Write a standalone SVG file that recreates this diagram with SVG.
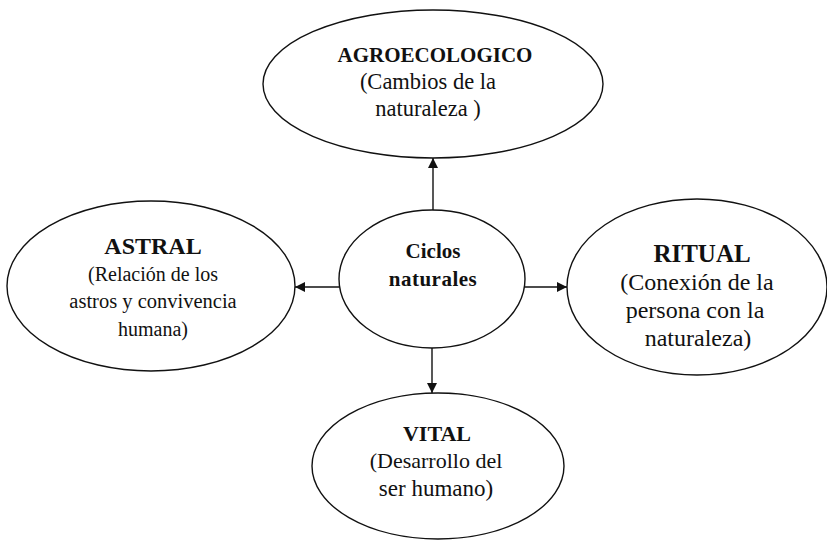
<svg xmlns="http://www.w3.org/2000/svg" width="827" height="540" viewBox="0 0 827 540">
  <style>
    .node { fill: #ffffff; stroke: #111111; stroke-width: 1.4; }
    .edge { stroke: #111111; stroke-width: 1.4; fill: none; marker-end: url(#arrow); }
    text { font-family: "Liberation Serif", "Times New Roman", serif; fill: #111111; text-anchor: middle; }
    .title { font-weight: bold; }
  </style>
  <defs>
    <marker id="arrow" viewBox="0 0 10 10" refX="10" refY="5" markerWidth="10" markerHeight="10" markerUnits="userSpaceOnUse" orient="auto">
      <path d="M0,0 L10,5 L0,10 Z" fill="#111111"/>
    </marker>
  </defs>
  <rect width="827" height="540" fill="#ffffff"/>

  <g id="connectors">
    <line class="edge" x1="433" y1="210" x2="433" y2="158"/>
    <line class="edge" x1="339" y1="287" x2="295" y2="287"/>
    <line class="edge" x1="525" y1="287" x2="567" y2="287"/>
    <line class="edge" x1="432" y1="348" x2="432" y2="393"/>
  </g>

  <g id="agroecologico">
    <ellipse class="node" cx="433" cy="84" rx="170" ry="74"/>
    <text class="title" x="435" y="62" font-size="21">AGROECOLOGICO</text>
    <text x="428" y="89" font-size="22.5">(Cambios de la</text>
    <text x="428" y="116" font-size="22.5">naturaleza )</text>
  </g>

  <g id="astral">
    <ellipse class="node" cx="151" cy="286" rx="144" ry="85"/>
    <text class="title" x="153" y="254" font-size="24">ASTRAL</text>
    <text x="153" y="281" font-size="20">(Relación de los</text>
    <text x="153" y="308" font-size="20.5">astros y convivencia</text>
    <text x="153" y="336" font-size="20">humana)</text>
  </g>

  <g id="ciclos">
    <ellipse class="node" cx="432" cy="279" rx="93" ry="69"/>
    <text class="title" x="433" y="258" font-size="21">Ciclos</text>
    <text class="title" x="433" y="286" font-size="21" letter-spacing="0.5">naturales</text>
  </g>

  <g id="ritual">
    <ellipse class="node" cx="697" cy="287" rx="130" ry="88"/>
    <text class="title" x="702" y="262" font-size="25">RITUAL</text>
    <text x="697" y="290" font-size="24">(Conexión de la</text>
    <text x="695" y="318" font-size="24">persona con la</text>
    <text x="698" y="346" font-size="24">naturaleza)</text>
  </g>

  <g id="vital">
    <ellipse class="node" cx="438" cy="466" rx="126" ry="73"/>
    <text class="title" x="437" y="441" font-size="22">VITAL</text>
    <text x="436" y="468" font-size="22">(Desarrollo del</text>
    <text x="436" y="496" font-size="23">ser humano)</text>
  </g>
</svg>
